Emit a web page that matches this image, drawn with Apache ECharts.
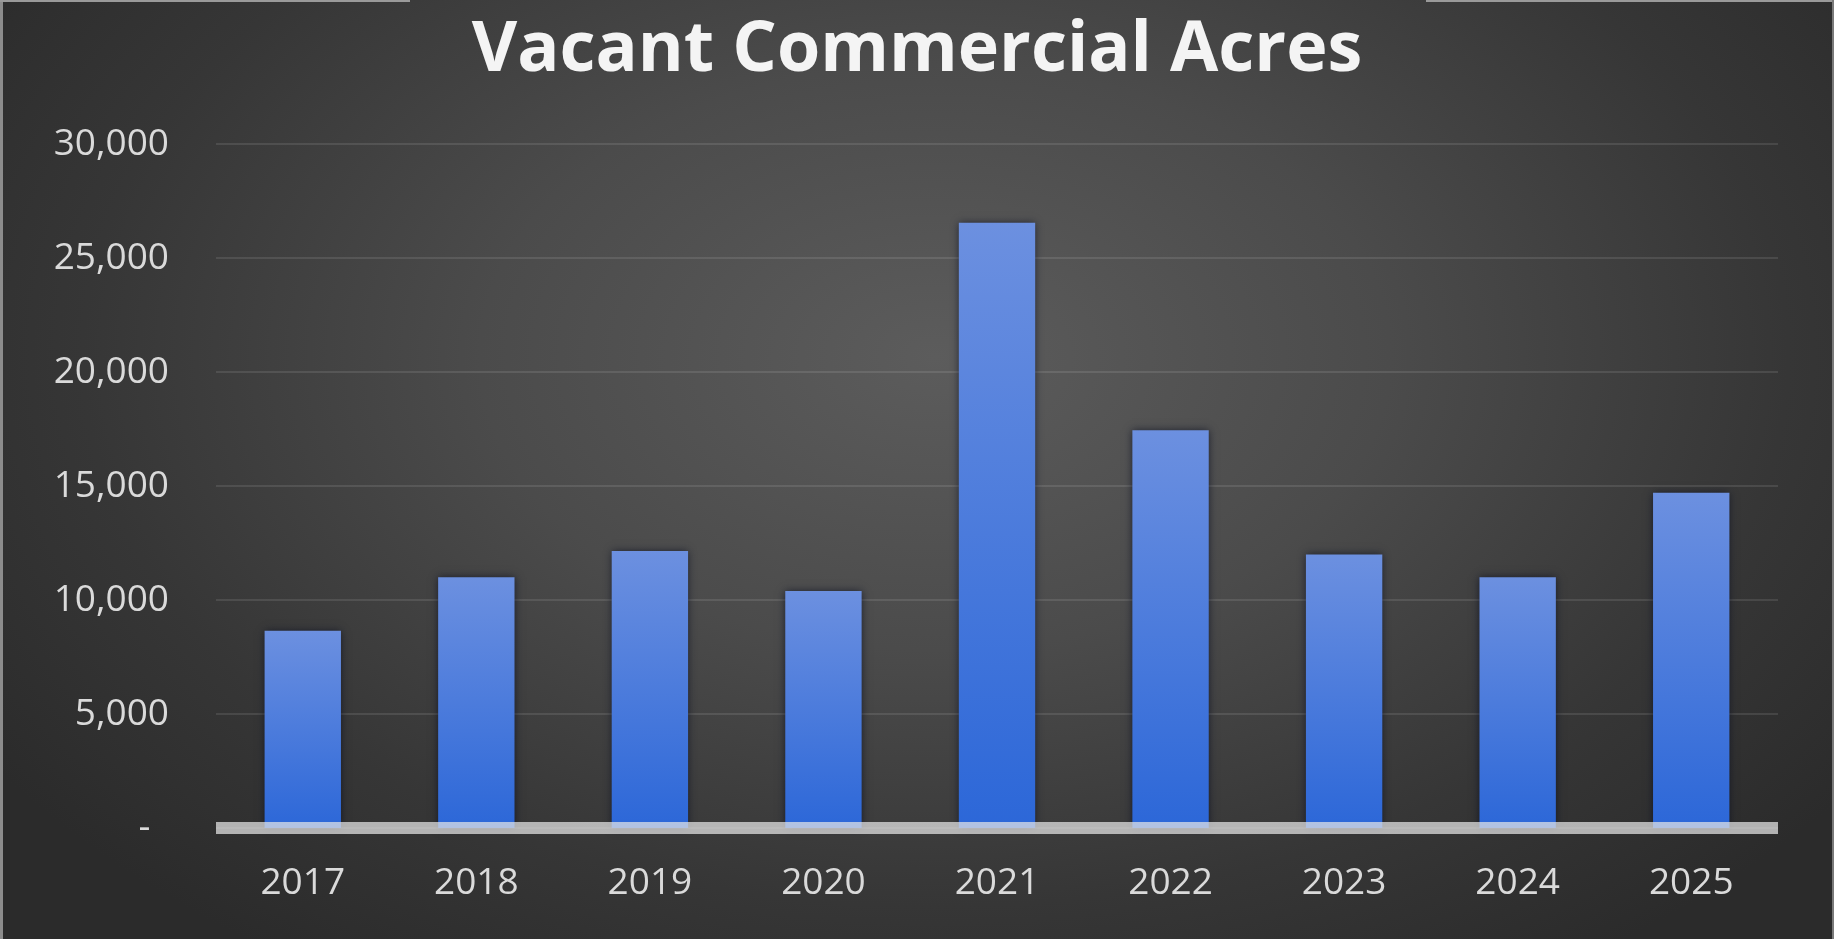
<!DOCTYPE html>
<html>
<head>
<meta charset="utf-8">
<title>Vacant Commercial Acres</title>
<script src="https://cdn.jsdelivr.net/npm/echarts@6/dist/echarts.min.js"></script>
<style>
  html, body { margin: 0; padding: 0; width: 100%; height: 100%; overflow: hidden; }
  body {
    background: radial-gradient(ellipse 62% 78% at 51% 38%, #5c5c5c 0%, #4b4b4b 40%, #363636 75%, #2b2b2b 100%);
  }
  #chart { width: 1834px; height: 939px; }
</style>
</head>
<body>
<div id="chart"></div>
<script>
// Vacant commercial acreage by year
const years = ['2017', '2018', '2019', '2020', '2021', '2022', '2023', '2024', '2025'];
const vacantAcres = [8650, 11000, 12150, 10400, 26550, 17450, 12000, 11000, 14700];
const yTicks = { min: 0, max: 30000, interval: 5000 };

const chart = echarts.init(document.getElementById('chart'), null, { renderer: 'canvas' });

const labelFont = { fontFamily: '"Open Sans", sans-serif', fontSize: 37, color: '#dadada' };

chart.setOption({
  backgroundColor: 'transparent',
  animation: false,
  title: {
    text: 'Vacant Commercial Acres',
    left: 'center',
    top: 11,
    textStyle: {
      fontFamily: '"Open Sans", sans-serif',
      fontWeight: 'bold',
      fontSize: 70,
      lineHeight: 70,
      color: '#f4f4f4'
    }
  },
  grid: { left: 216, right: 56, top: 144, bottom: 111 },
  xAxis: {
    type: 'category',
    data: years,
    z: 5,
    axisLine: { show: true, lineStyle: { color: 'rgba(230,230,230,0.72)', width: 12, cap: 'butt' } },
    axisTick: { show: false },
    axisLabel: Object.assign({ margin: 37 }, labelFont)
  },
  yAxis: {
    type: 'value',
    min: yTicks.min,
    max: yTicks.max,
    interval: yTicks.interval,
    axisLine: { show: false },
    axisTick: { show: false },
    splitLine: { lineStyle: { color: 'rgba(255,255,255,0.1)', width: 2 } },
    axisLabel: Object.assign({
      margin: 47,
      formatter: function (v) {
        return v === 0 ? '-\u2002' : v.toLocaleString('en-US');
      }
    }, labelFont)
  },
  series: [{
    type: 'bar',
    data: vacantAcres,
    barWidth: '44%',
    itemStyle: {
      color: new echarts.graphic.LinearGradient(0, 0, 0, 1, [
        { offset: 0, color: '#6c90e0' },
        { offset: 1, color: '#2c67d8' }
      ]),
      shadowColor: 'rgba(5,10,30,0.65)',
      shadowBlur: 8
    }
  }],
  graphic: [
    // frame edges
    { type: 'rect', left: 0, top: 0, shape: { width: 3, height: 939 }, style: { fill: '#8c8c8c' }, silent: true },
    { type: 'rect', left: 0, top: 0, shape: { width: 410, height: 2 }, style: { fill: '#9a9a9a' }, silent: true },
    { type: 'rect', right: 0, top: 0, shape: { width: 408, height: 2 }, style: { fill: '#9a9a9a' }, silent: true },
    { type: 'rect', right: 0, top: 0, shape: { width: 2, height: 939 }, style: { fill: '#7a7a7a' }, silent: true }
  ]
});
</script>
</body>
</html>
